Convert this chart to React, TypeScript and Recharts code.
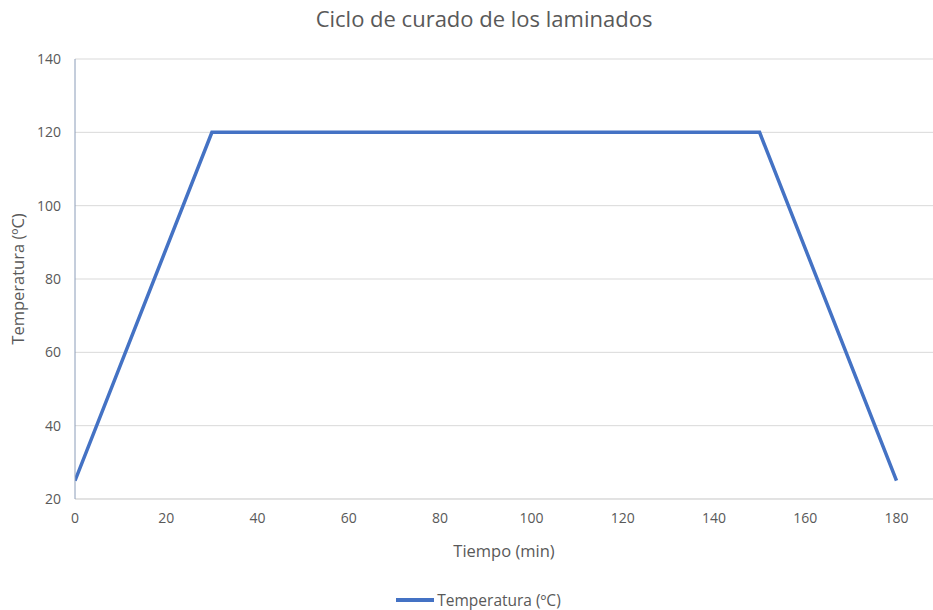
import { CartesianGrid, Legend, Line, LineChart, XAxis, YAxis } from 'recharts';

const tiempo = [0, 30, 150, 180];
const temperatura = [25, 120, 120, 25];
const xTicks = [0, 20, 40, 60, 80, 100, 120, 140, 160, 180];
const yTicks = [20, 40, 60, 80, 100, 120, 140];

const data = tiempo.map((t, i) => ({ t, temp: temperatura[i] }));

const FONT = '"Open Sans", sans-serif';
const GREY = '#595959';

function LegendContent() {
  return (
    <div
      style={{
        display: 'flex',
        justifyContent: 'center',
        alignItems: 'center',
        fontFamily: FONT,
        fontSize: 15.5,
        color: GREY,
        paddingTop: 15,
        paddingLeft: 24,
      }}
    >
      <svg width={38} height={10}>
        <line x1={0} y1={5} x2={38} y2={5} stroke="#4472c4" strokeWidth={4} />
      </svg>
      <span style={{ marginLeft: 3 }}>Temperatura (ºC)</span>
    </div>
  );
}

export default function App() {
  return (
    <div style={{ position: 'absolute', left: 0, top: 0, width: 933, height: 610, background: '#fff' }}>
      <div
        style={{
          position: 'absolute',
          top: 3,
          left: 484,
          transform: 'translateX(-50%)',
          whiteSpace: 'nowrap',
          fontFamily: FONT,
          fontSize: 22,
          color: GREY,
        }}
      >
        Ciclo de curado de los laminados
      </div>
      <LineChart
        width={933}
        height={610}
        data={data}
        margin={{ top: 59, right: 0, left: 0, bottom: 0 }}
        style={{ fontFamily: FONT }}
      >
        <CartesianGrid vertical={false} stroke="#d9d9d9" />
        <XAxis
          dataKey="t"
          type="number"
          domain={[0, 188]}
          ticks={xTicks}
          allowDataOverflow
          height={75}
          tickLine={false}
          tickSize={0}
          tickMargin={14}
          axisLine={{ stroke: '#d9d9d9' }}
          tick={{ fill: GREY, fontSize: 14 }}
          label={{
            value: 'Tiempo (min)',
            position: 'insideBottom',
            offset: 17,
            fill: GREY,
            fontSize: 16.5,
          }}
        />
        <YAxis
          type="number"
          domain={[20, 140]}
          ticks={yTicks}
          width={75}
          tickLine={false}
          tickSize={0}
          tickMargin={14}
          axisLine={{ stroke: '#8a9cb8' }}
          tick={{ fill: GREY, fontSize: 14 }}
          label={{
            value: 'Temperatura (ºC)',
            angle: -90,
            position: 'insideLeft',
            offset: 18,
            fill: GREY,
            fontSize: 16.5,
            style: { textAnchor: 'middle' },
          }}
        />
        <Legend verticalAlign="bottom" height={36} content={LegendContent} />
        <Line
          type="linear"
          dataKey="temp"
          name="Temperatura (ºC)"
          stroke="#4472c4"
          strokeWidth={3.5}
          dot={false}
          isAnimationActive={false}
        />
      </LineChart>
    </div>
  );
}
